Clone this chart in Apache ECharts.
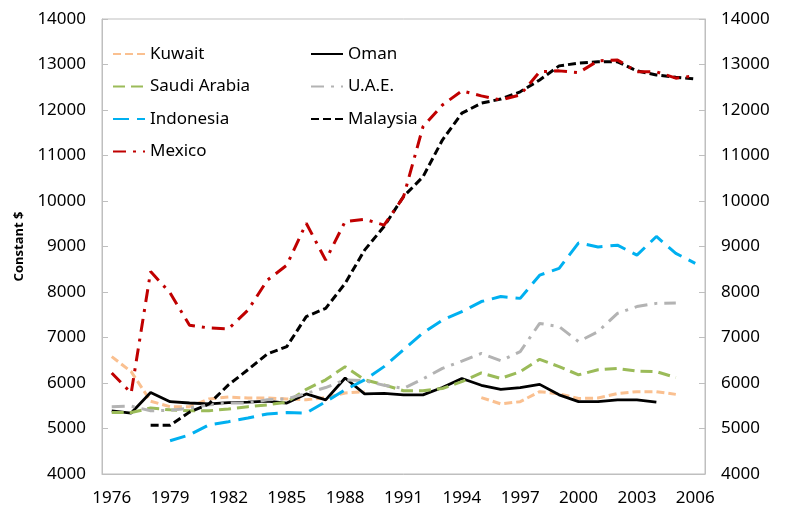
<!DOCTYPE html>
<html>
<head>
<meta charset="utf-8">
<script src="https://cdn.jsdelivr.net/npm/echarts@6/dist/echarts.min.js"></script>
<style>
  html, body { margin: 0; padding: 0; background: #fff; }
  #chart { width: 785px; height: 516px; }
</style>
</head>
<body>
<div id="chart"></div>
<script>
// years on the x axis
const years = [];
for (let y = 1976; y <= 2006; y++) years.push(String(y));

// values (constant $)
const kuwait = [6580, 6250, 5600, 5480, 5480, 5650, 5690, 5670, 5670, 5650, 5630, 5680, 5780, 5810, null, null, null, null, null, 5680, 5540, 5590, 5810, 5760, 5660, 5670, 5770, 5810, 5810, 5750, null];
const oman = [5385, 5340, 5790, 5590, 5560, 5540, 5570, 5580, 5600, 5560, 5760, 5630, 6110, 5760, 5770, 5740, 5740, 5900, 6100, 5950, 5860, 5900, 5970, 5740, 5590, 5590, 5630, 5630, 5580, null, null];
const saudi = [5350, 5350, 5450, 5410, 5390, 5390, 5430, 5480, 5520, 5580, 5860, 6070, 6360, 6070, 5960, 5830, 5830, 5880, 6030, 6220, 6100, 6250, 6520, 6360, 6180, 6290, 6320, 6260, 6250, 6120, null];
const uae = [5480, 5490, 5390, 5400, 5450, 5520, 5560, 5560, 5630, 5650, 5770, 5900, 6070, 6050, 5950, 5880, 6090, 6320, 6480, 6650, 6490, 6690, 7310, 7240, 6910, 7130, 7530, 7680, 7750, 7760, null];
const indonesia = [null, null, null, 4730, 4860, 5080, 5150, 5230, 5320, 5350, 5340, 5590, 5850, 6070, 6360, 6730, 7100, 7380, 7570, 7790, 7900, 7860, 8370, 8520, 9080, 8990, 9030, 8810, 9220, 8850, 8630];
const malaysia = [null, null, 5070, 5070, 5360, 5540, 5960, 6290, 6640, 6800, 7460, 7640, 8190, 8920, 9440, 10100, 10530, 11340, 11930, 12150, 12240, 12400, 12660, 12970, 13030, 13060, 13060, 12860, 12770, 12720, 12680];
const mexico = [6220, 5780, 8450, 7980, 7270, 7210, 7190, 7600, 8260, 8590, 9510, 8700, 9550, 9600, 9470, 10090, 11630, 12110, 12420, 12310, 12220, 12330, 12840, 12860, 12820, 13080, 13100, 12840, 12840, 12700, 12750];

const legendLeft = ['Kuwait', 'Saudi Arabia', 'Indonesia', 'Mexico'];
const legendRight = ['Oman', 'U.A.E.', 'Malaysia'];

const FONT = 'Noto Sans';
const AXIS_GRAY = '#BFBFBF';

function line(name, data, color, dash, width) {
  return {
    name: name,
    type: 'line',
    data: data,
    symbol: 'none',
    connectNulls: false,
    lineStyle: { color: color, width: width || 3, type: dash },
    itemStyle: { color: color }
  };
}

const legendBase = {
  orient: 'vertical',
  top: 44,
  padding: 0,
  itemWidth: 32,
  itemHeight: 14,
  itemGap: 12.5,
  itemStyle: { opacity: 0 },
  textStyle: { fontFamily: FONT, fontSize: 17, color: '#000', lineHeight: 20 }
};

const yAxisBase = {
  type: 'value',
  min: 4000,
  max: 14000,
  interval: 1000,
  splitLine: { show: false },
  axisLine: { show: true, lineStyle: { color: AXIS_GRAY } },
  axisTick: { show: true, inside: true, length: 6, lineStyle: { color: AXIS_GRAY } },
  axisLabel: {
    fontFamily: FONT, fontSize: 17, color: '#000', margin: 16,
    formatter: v => String(v)
  }
};

const chart = echarts.init(document.getElementById('chart'));
chart.setOption({
  animation: false,
  backgroundColor: '#fff',
  grid: {
    left: 102, right: 80, top: 19, bottom: 42,
    show: true, borderColor: AXIS_GRAY, borderWidth: 1
  },
  legend: [
    Object.assign({}, legendBase, { left: 112, data: legendLeft }),
    Object.assign({}, legendBase, { left: 310, data: legendRight })
  ],
  xAxis: {
    type: 'category',
    data: years,
    boundaryGap: true,
    axisLine: { lineStyle: { color: AXIS_GRAY } },
    axisTick: { interval: 0, inside: true, length: 5, lineStyle: { color: AXIS_GRAY } },
    axisLabel: { interval: 2, fontFamily: FONT, fontSize: 17, color: '#000', margin: 16 }
  },
  yAxis: [
    Object.assign({}, yAxisBase, {
      position: 'left',
      name: 'Constant $',
      nameLocation: 'middle',
      nameGap: 76,
      nameTextStyle: { fontFamily: FONT, fontSize: 13, fontWeight: 'bold', color: '#000' }
    }),
    Object.assign({}, yAxisBase, { position: 'right' })
  ],
  series: [
    line('Kuwait', kuwait, '#FAC090', [8, 4]),
    line('Oman', oman, '#000000', 'solid', 2.8),
    line('Saudi Arabia', saudi, '#9BBB59', [12, 6]),
    line('U.A.E.', uae, '#B3B3B3', [13, 7, 3, 7]),
    line('Indonesia', indonesia, '#00B0F0', [16, 8]),
    line('Malaysia', malaysia, '#000000', [8, 4]),
    line('Mexico', mexico, '#C00000', [13, 7, 3, 7])
  ]
});
</script>
</body>
</html>
